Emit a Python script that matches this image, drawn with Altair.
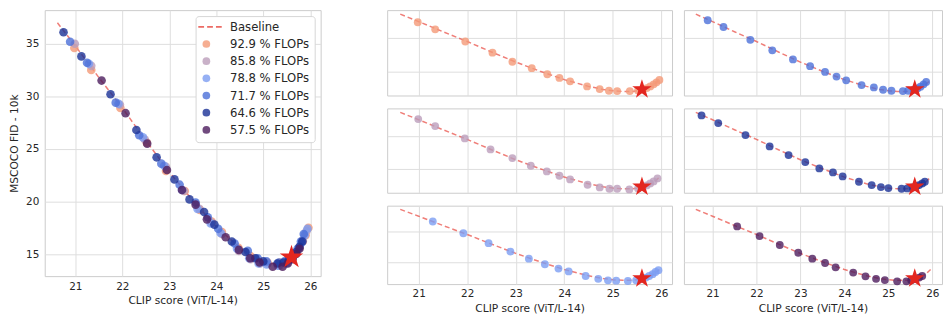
import altair as alt
import pandas as pd

# ---------------- data ----------------
X_DOMAIN = [20.35, 26.22]
Y_DOMAIN = [12.9, 38.2]
x_ticks = [21, 22, 23, 24, 25, 26]
y_ticks_main = [15, 20, 25, 30, 35]
y_ticks_small = [20, 30]

base_clip = [20.62, 21.0, 21.5, 22.0, 22.5, 23.0, 23.5, 24.0, 24.5, 24.8, 25.0, 25.2, 25.4, 25.6, 25.75, 25.85, 25.96]
base_fid = [37.0, 34.8, 31.8, 28.9, 25.8, 22.8, 20.1, 17.6, 15.6, 14.7, 14.3, 14.1, 14.1, 14.5, 15.3, 16.1, 17.6]

star_clip = [25.6]
star_fid = [14.7]

series_labels = ["92.9 % FLOPs", "85.8 % FLOPs", "78.8 % FLOPs",
                 "71.7 % FLOPs", "64.6 % FLOPs", "57.5 % FLOPs"]
series_colors = ["#F49A78", "#BC9EBB", "#7C9DF2", "#4C70D9", "#1B3297", "#4D1D5E"]

clip_929 = [20.98, 21.34, 21.96, 22.52, 22.93, 23.33, 23.65, 23.90, 24.12, 24.47, 24.73, 24.92, 25.09, 25.35, 25.52, 25.62, 25.70, 25.77, 25.84, 25.90, 25.96]
fid_929 = [34.6, 32.5, 28.9, 25.6, 22.9, 21.0, 19.2, 18.1, 17.1, 15.6, 14.8, 14.3, 14.2, 14.2, 14.4, 14.7, 15.1, 15.6, 16.2, 16.8, 17.5]

clip_858 = [20.99, 21.34, 21.95, 22.48, 22.93, 23.31, 23.64, 23.90, 24.12, 24.48, 24.73, 24.93, 25.09, 25.34, 25.52, 25.62, 25.70, 25.77, 25.84, 25.92]
fid_858 = [35.0, 32.9, 29.2, 25.9, 23.3, 21.0, 19.3, 18.0, 16.9, 15.3, 14.5, 14.1, 14.1, 13.9, 14.2, 14.6, 15.1, 15.7, 16.3, 17.2]

clip_788 = [21.29, 21.92, 22.44, 22.89, 23.27, 23.60, 23.88, 24.09, 24.44, 24.70, 24.90, 25.07, 25.31, 25.48, 25.60, 25.68, 25.75, 25.82, 25.88, 25.94]
fid_788 = [33.1, 29.3, 26.1, 23.4, 21.1, 19.3, 17.9, 17.0, 15.5, 14.6, 14.1, 14.0, 13.9, 14.1, 14.5, 15.0, 15.5, 16.1, 16.8, 17.4]

clip_717 = [20.89, 21.25, 21.86, 22.36, 22.83, 23.22, 23.56, 23.82, 24.04, 24.39, 24.67, 24.88, 25.07, 25.33, 25.45, 25.58, 25.66, 25.73, 25.80, 25.86]
fid_717 = [35.2, 33.2, 29.4, 26.3, 23.6, 21.6, 19.9, 18.5, 17.4, 16.0, 15.3, 14.6, 14.3, 14.2, 14.3, 14.6, 15.0, 15.5, 16.2, 16.9]

clip_646 = [20.75, 21.13, 21.75, 22.30, 22.73, 23.11, 23.43, 23.74, 23.96, 24.33, 24.62, 24.83, 25.00, 25.30, 25.43, 25.55, 25.63, 25.70, 25.77, 25.83]
fid_646 = [36.1, 33.8, 30.2, 26.8, 24.2, 22.1, 20.2, 19.0, 17.8, 16.2, 15.2, 14.6, 14.3, 14.1, 14.2, 14.5, 14.8, 15.2, 15.7, 16.2]

clip_575 = [21.56, 22.07, 22.53, 22.95, 23.27, 23.56, 23.80, 24.20, 24.48, 24.72, 24.92, 25.20, 25.41, 25.52, 25.62, 25.70, 25.77]
fid_575 = [31.5, 28.4, 25.5, 23.0, 21.1, 19.7, 18.3, 16.6, 15.4, 14.6, 14.2, 13.8, 13.8, 14.1, 14.5, 15.0, 15.5]

all_clip = [clip_929, clip_858, clip_788, clip_717, clip_646, clip_575]
all_fid = [fid_929, fid_858, fid_788, fid_717, fid_646, fid_575]

# ---------------- styling constants ----------------
LINE_COLOR = "#e8473f"
STAR_COLOR = "#e3261f"
FONT = "DejaVu Sans"
DASH_PATH = "M-2.1,0L-0.6,0M0.2,0L1.7,0M2.5,0L4.0,0"
STAR_PATH = ("M0,-1L0.2245,-0.309L0.951,-0.309L0.363,0.118L0.588,0.809L0,0.382"
             "L-0.588,0.809L-0.363,0.118L-0.951,-0.309L-0.2245,-0.309Z")

base_df = pd.DataFrame({"clip": base_clip, "fid": base_fid})
star_df = pd.DataFrame({"clip": star_clip, "fid": star_fid})
frames = []
for lab, cx, fy in zip(series_labels, all_clip, all_fid):
    frames.append(pd.DataFrame({"clip": cx, "fid": fy, "series": lab}))
pts_df = pd.concat(frames, ignore_index=True)

legend_domain = ["Baseline"] + series_labels
legend_colors = [LINE_COLOR] + series_colors
legend_shapes = [DASH_PATH] + ["circle"] * 6
legend_strokes = [LINE_COLOR] + ["transparent"] * 6

xscale = alt.Scale(domain=X_DOMAIN, nice=False, zero=False)
yscale = alt.Scale(domain=Y_DOMAIN, nice=False, zero=False)


def x_enc(show, title="CLIP score (ViT/L-14)"):
    if show:
        ax = alt.Axis(values=x_ticks, title=title, labelPadding=5, titlePadding=4, grid=True)
    else:
        ax = alt.Axis(values=x_ticks, labels=False, title="", grid=True)
    return alt.X("clip:Q", scale=xscale, axis=ax)


def y_enc(main):
    if main:
        ax = alt.Axis(values=y_ticks_main, title="MSCOCO FID - 10k",
                      labelPadding=6, titlePadding=6, grid=True)
    else:
        ax = alt.Axis(values=y_ticks_small, labels=False, title="", grid=True)
    return alt.Y("fid:Q", scale=yscale, axis=ax)


leg = alt.Legend(
    title="", orient="top-right", offset=6, padding=5,
    labelFont=FONT, labelFontSize=11.7, labelColor="#262626",
    symbolSize=60, symbolStrokeWidth=1.6, labelOffset=18, rowPadding=2.3,
    strokeColor="#d6d6d6", fillColor="white", cornerRadius=3,
    labelExpr="datum.label == 'Baseline' ? '\u2003Baseline' : datum.label",
)

# ---------------- left (combined) panel ----------------
left_line = alt.Chart(base_df).mark_line(
    color=LINE_COLOR, strokeWidth=1.5, strokeDash=[5, 3], opacity=0.7
).encode(x=x_enc(True), y=y_enc(True))

left_pts = alt.Chart(pts_df).mark_point(filled=True, size=75, opacity=0.8).encode(
    x=x_enc(True),
    y=y_enc(True),
    color=alt.Color("series:N", scale=alt.Scale(domain=legend_domain, range=legend_colors), legend=leg),
    shape=alt.Shape("series:N", scale=alt.Scale(domain=legend_domain, range=legend_shapes), legend=leg),
    stroke=alt.Stroke("series:N", scale=alt.Scale(domain=legend_domain, range=legend_strokes), legend=leg),
)

left_star = alt.Chart(star_df).mark_point(
    shape=STAR_PATH, filled=True, size=620, color=STAR_COLOR, opacity=1
).encode(x=x_enc(True), y=y_enc(True))

left = alt.layer(left_line, left_pts, left_star).properties(width=278, height=268)


# ---------------- small panels ----------------
def panel(i, width, height, bottom):
    df = pd.DataFrame({"clip": all_clip[i], "fid": all_fid[i]})
    ln = alt.Chart(base_df).mark_line(
        color=LINE_COLOR, strokeWidth=1.5, strokeDash=[5, 3], opacity=0.7
    ).encode(x=x_enc(bottom), y=y_enc(False))
    pt = alt.Chart(df).mark_point(
        filled=True, size=62, opacity=0.8, color=series_colors[i]
    ).encode(x=x_enc(bottom), y=y_enc(False))
    st = alt.Chart(star_df).mark_point(
        shape=STAR_PATH, filled=True, size=420, color=STAR_COLOR, opacity=1
    ).encode(x=x_enc(bottom), y=y_enc(False))
    return alt.layer(ln, pt, st).properties(width=width, height=height)


heights = [86, 85, 79]
col1 = alt.vconcat(*[panel(r, 287, heights[r], r == 2) for r in range(3)], spacing=9)
col2 = alt.vconcat(*[panel(3 + r, 260, heights[r], r == 2) for r in range(3)], spacing=9)
right = alt.hconcat(col1, col2, spacing=10)

chart = alt.hconcat(left, right, spacing=65).resolve_scale(
    color="independent", shape="independent", stroke="independent"
).properties(padding=0).configure_axis(
    domain=False, ticks=False, grid=True, gridColor="#dedede", gridWidth=1,
    labelFont=FONT, labelFontSize=10.5, labelColor="#262626",
    titleFont=FONT, titleFontSize=10.7, titleFontWeight="normal", titleColor="#262626",
).configure_view(stroke="#cccccc", strokeWidth=1)

chart.save("out.html", embed_options={"renderer": "svg", "actions": False})
